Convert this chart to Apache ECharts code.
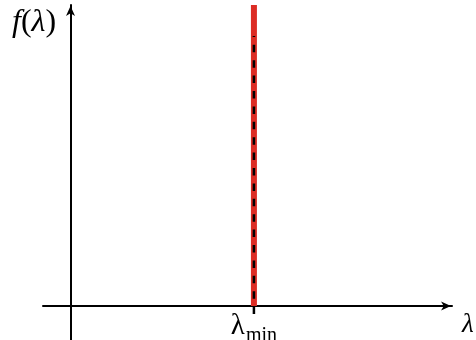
<!DOCTYPE html>
<html>
<head>
<meta charset="utf-8">
<script src="https://cdn.jsdelivr.net/npm/echarts@6/dist/echarts.min.js"></script>
<style>
  html, body { margin: 0; padding: 0; background: #fff; }
  #chart { width: 476px; height: 340px; }
</style>
</head>
<body>
<div id="chart"></div>
<script>
// Axis ranges (λ on x, f(λ) on y); the minimum λ sits at 1
const xRange = [-0.15, 2.08];
const yRange = [-0.113, 1];
const lambdaMin = 1;
// vertical spike of f at λ_min, and the dashed guide through it
const spikeY = [0, 1];
const guideY = [-0.027, 0.897];
const tickLabels = ['λ|min'];

const chart = echarts.init(document.getElementById('chart'), null, { renderer: 'canvas' });

const serif = '"Liberation Serif", "DejaVu Serif", serif';
const arrow = 'path://M0,0 L5,11 L0,8 L-5,11 Z';

chart.setOption({
  animation: false,
  backgroundColor: '#fff',
  grid: { left: 43, right: 24, top: 5, bottom: 0, containLabel: false, outerBoundsMode: 'none' },
  xAxis: {
    type: 'value',
    min: xRange[0],
    max: xRange[1],
    splitLine: { show: false },
    axisTick: { show: false },
    axisLabel: { show: false },
    axisLine: {
      onZero: true,
      lineStyle: { color: '#000', width: 2 },
      symbol: ['none', arrow],
      symbolSize: [9, 12],
      symbolOffset: [0, -6]
    }
  },
  yAxis: {
    type: 'value',
    min: yRange[0],
    max: yRange[1],
    splitLine: { show: false },
    axisTick: { show: false },
    axisLabel: { show: false },
    axisLine: {
      onZero: true,
      lineStyle: { color: '#000', width: 2 },
      symbol: ['none', arrow],
      symbolSize: [9, 12],
      symbolOffset: [0, -6]
    }
  },
  series: [
    {
      type: 'line',
      clip: false,
      symbol: 'none',
      lineStyle: { color: '#dc2c24', width: 6, cap: 'butt' },
      data: spikeY.map(function (v) { return [lambdaMin, v]; }),
      z: 3
    },
    {
      type: 'line',
      clip: false,
      symbol: 'none',
      lineStyle: { color: '#000', width: 2.5, type: [7.5, 7.9], cap: 'butt' },
      data: guideY.map(function (v) { return [lambdaMin, v]; }),
      z: 4
    },
    {
      // tick label under λ_min on the λ axis
      type: 'scatter',
      clip: false,
      symbolSize: 0,
      silent: true,
      itemStyle: { opacity: 1, color: '#000' },
      data: [[lambdaMin, 0]],
      label: {
        show: true,
        position: 'bottom',
        distance: 6,
        formatter: function () {
          const parts = tickLabels[0].split('|');
          return '{l|' + parts[0] + '}{s|' + parts[1] + '}';
        },
        rich: {
          l: { fontFamily: serif, fontSize: 29, color: '#000', verticalAlign: 'bottom' },
          s: { fontFamily: serif, fontSize: 20, color: '#000', verticalAlign: 'bottom', padding: [0, 0, -5, 1] }
        }
      },
      z: 5
    }
  ],
  graphic: [
    {
      type: 'text',
      left: 12,
      top: 7,
      style: {
        text: '{i|f}{r|(}{i|λ}{r|)}',
        rich: {
          i: { fontFamily: serif, fontStyle: 'italic', fontSize: 32, fill: '#000' },
          r: { fontFamily: serif, fontSize: 32, fill: '#000' }
        }
      }
    },
    {
      type: 'text',
      left: 462,
      top: 311,
      style: { text: 'λ', fontFamily: serif, fontStyle: 'italic', fontSize: 27, fill: '#000' }
    }
  ]
});
</script>
</body>
</html>
